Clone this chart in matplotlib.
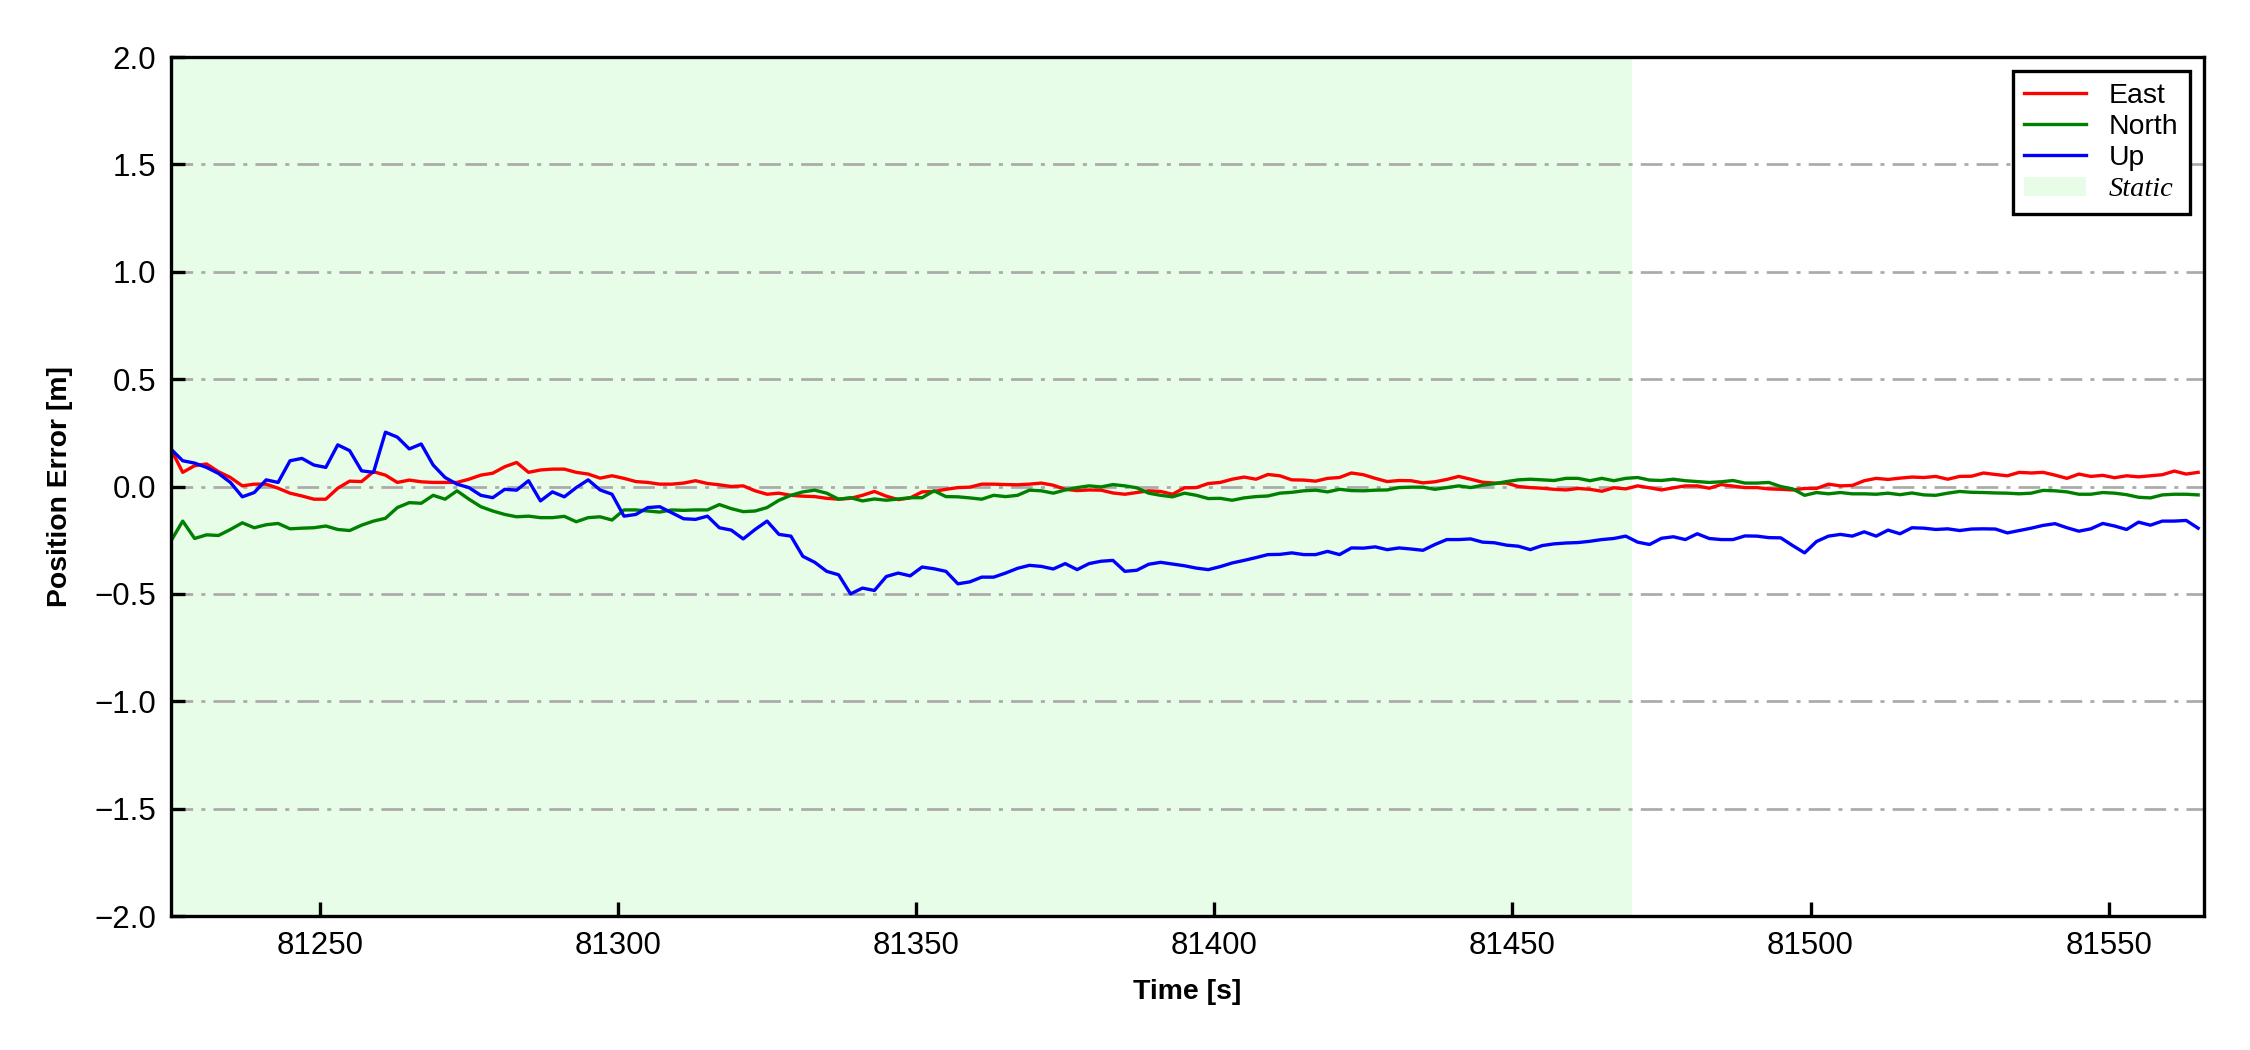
import matplotlib
matplotlib.use('Agg')
import matplotlib.pyplot as plt
import numpy as np
from matplotlib.patches import Patch

# sample times [s], 2 s step
time_s = np.arange(81225, 81566, 2)

east = [
    0.175, 0.066, 0.097, 0.105, 0.069, 0.042, 0.003, 0.011, 0.011, -0.008,
    -0.031, -0.044, -0.059, -0.059, -0.008, 0.025, 0.023, 0.069, 0.053, 0.019,
    0.030, 0.022, 0.019, 0.019, 0.019, 0.034, 0.053, 0.062, 0.092, 0.112,
    0.066, 0.077, 0.081, 0.081, 0.066, 0.058, 0.039, 0.050, 0.038, 0.023,
    0.019, 0.011, 0.011, 0.016, 0.027, 0.014, 0.008, 0.000, 0.003, -0.020,
    -0.036, -0.031, -0.041, -0.045, -0.047, -0.055, -0.059, -0.055, -0.041, -0.023,
    -0.045, -0.061, -0.053, -0.025, -0.023, -0.013, -0.005, -0.003, 0.011, 0.011,
    0.009, 0.008, 0.011, 0.016, 0.006, -0.013, -0.019, -0.016, -0.017, -0.030,
    -0.036, -0.028, -0.020, -0.023, -0.036, -0.006, -0.005, 0.014, 0.019, 0.034,
    0.044, 0.034, 0.056, 0.050, 0.031, 0.030, 0.025, 0.038, 0.042, 0.063,
    0.055, 0.038, 0.023, 0.028, 0.027, 0.017, 0.022, 0.033, 0.047, 0.034,
    0.020, 0.016, 0.016, 0.000, -0.005, -0.008, -0.013, -0.016, -0.009, -0.013,
    -0.022, -0.006, -0.011, 0.003, -0.006, -0.016, -0.006, 0.003, 0.003, -0.008,
    0.009, 0.002, -0.005, -0.005, -0.011, -0.013, -0.016, -0.009, -0.009, 0.011,
    0.003, 0.005, 0.027, 0.038, 0.033, 0.039, 0.044, 0.042, 0.047, 0.034,
    0.047, 0.048, 0.063, 0.056, 0.050, 0.066, 0.063, 0.066, 0.053, 0.038,
    0.058, 0.047, 0.052, 0.041, 0.050, 0.045, 0.050, 0.055, 0.072, 0.058,
    0.066,
]

north = [
    -0.255, -0.161, -0.242, -0.225, -0.228, -0.200, -0.169, -0.192, -0.178, -0.172,
    -0.197, -0.194, -0.192, -0.184, -0.200, -0.205, -0.180, -0.161, -0.148, -0.098,
    -0.075, -0.078, -0.041, -0.059, -0.020, -0.059, -0.094, -0.114, -0.130, -0.141,
    -0.138, -0.145, -0.145, -0.139, -0.164, -0.145, -0.141, -0.156, -0.109, -0.109,
    -0.114, -0.119, -0.109, -0.111, -0.109, -0.109, -0.084, -0.103, -0.117, -0.114,
    -0.098, -0.064, -0.041, -0.025, -0.017, -0.031, -0.059, -0.052, -0.067, -0.058,
    -0.064, -0.058, -0.052, -0.052, -0.020, -0.047, -0.048, -0.053, -0.059, -0.041,
    -0.047, -0.041, -0.017, -0.020, -0.031, -0.016, -0.005, 0.003, -0.002, 0.009,
    0.003, -0.006, -0.031, -0.041, -0.048, -0.031, -0.041, -0.056, -0.055, -0.064,
    -0.053, -0.047, -0.044, -0.031, -0.027, -0.020, -0.017, -0.025, -0.013, -0.019,
    -0.020, -0.017, -0.016, -0.005, -0.003, -0.003, -0.013, -0.005, 0.003, -0.005,
    0.006, 0.013, 0.023, 0.031, 0.034, 0.031, 0.028, 0.038, 0.038, 0.027,
    0.038, 0.027, 0.038, 0.042, 0.030, 0.028, 0.034, 0.027, 0.023, 0.019,
    0.022, 0.028, 0.016, 0.016, 0.019, 0.000, -0.011, -0.041, -0.028, -0.034,
    -0.028, -0.034, -0.034, -0.036, -0.031, -0.038, -0.030, -0.039, -0.041, -0.031,
    -0.023, -0.027, -0.028, -0.030, -0.031, -0.034, -0.031, -0.018, -0.020, -0.025,
    -0.036, -0.036, -0.028, -0.031, -0.038, -0.050, -0.053, -0.039, -0.036, -0.036,
    -0.039,
]

up = [
    0.175, 0.120, 0.109, 0.089, 0.061, 0.019, -0.048, -0.028, 0.031, 0.019,
    0.120, 0.131, 0.100, 0.089, 0.194, 0.167, 0.073, 0.066, 0.253, 0.230,
    0.175, 0.198, 0.100, 0.042, 0.011, -0.005, -0.041, -0.052, -0.013, -0.017,
    0.027, -0.067, -0.025, -0.048, -0.005, 0.031, -0.016, -0.036, -0.138, -0.130,
    -0.098, -0.094, -0.122, -0.150, -0.153, -0.138, -0.192, -0.203, -0.244, -0.200,
    -0.161, -0.223, -0.231, -0.325, -0.353, -0.395, -0.411, -0.500, -0.473, -0.484,
    -0.419, -0.403, -0.416, -0.375, -0.383, -0.395, -0.453, -0.444, -0.422, -0.422,
    -0.403, -0.381, -0.367, -0.372, -0.384, -0.359, -0.387, -0.359, -0.348, -0.344,
    -0.395, -0.390, -0.362, -0.353, -0.361, -0.369, -0.380, -0.387, -0.373, -0.356,
    -0.344, -0.331, -0.317, -0.316, -0.309, -0.317, -0.317, -0.302, -0.317, -0.286,
    -0.287, -0.281, -0.294, -0.286, -0.291, -0.297, -0.270, -0.247, -0.247, -0.244,
    -0.259, -0.262, -0.273, -0.278, -0.294, -0.275, -0.267, -0.263, -0.261, -0.255,
    -0.247, -0.242, -0.231, -0.259, -0.270, -0.241, -0.234, -0.247, -0.220, -0.242,
    -0.247, -0.247, -0.230, -0.231, -0.238, -0.239, -0.275, -0.309, -0.256, -0.231,
    -0.223, -0.231, -0.211, -0.231, -0.203, -0.220, -0.192, -0.194, -0.200, -0.197,
    -0.205, -0.198, -0.197, -0.198, -0.216, -0.205, -0.194, -0.181, -0.173, -0.192,
    -0.208, -0.197, -0.172, -0.184, -0.200, -0.166, -0.180, -0.161, -0.161, -0.158,
    -0.194,
]

static_end = 81470

plt.rcParams['font.family'] = ['Liberation Sans', 'DejaVu Sans']

fig, ax = plt.subplots(figsize=(7.5, 3.5), dpi=300)
fig.subplots_adjust(left=0.0759, right=0.9796, bottom=0.1276, top=0.9457)

ax.axvspan(time_s[0], static_end, color='#e8fde8', lw=0, zorder=0)
ax.plot(time_s, east, color='red', lw=0.8, label='East')
ax.plot(time_s, north, color='green', lw=0.8, label='North')
ax.plot(time_s, up, color='blue', lw=0.8, label='Up')

ax.set_xlim(81225, 81566)
ax.set_ylim(-2.0, 2.0)
ax.set_yticks(np.arange(-2.0, 2.01, 0.5))
ax.yaxis.grid(True, color='#aaaaaa', lw=0.65, linestyle=(0, (8, 3, 1.5, 3)))
ax.set_axisbelow(True)

ax.tick_params(direction='in', labelsize=7.5, length=3.4, width=0.8)
for sp in ax.spines.values():
    sp.set_linewidth(0.8)

label_font = dict(weight='bold', size=6.8)
ax.set_xlabel('Time [s]', fontdict=label_font, labelpad=4.5)
ax.set_ylabel('Position Error [m]', fontdict=label_font, labelpad=5)

handles, labels = ax.get_legend_handles_labels()
handles.append(Patch(facecolor='#e8fde8', edgecolor='none'))
labels.append('Static')
leg = ax.legend(handles, labels, loc='upper right', fontsize=6.8, fancybox=False,
                edgecolor='black', framealpha=1, labelspacing=0.19, handlelength=2.2)
leg.get_frame().set_linewidth(0.8)
leg.get_texts()[3].set_family(['Liberation Serif', 'DejaVu Serif'])
leg.get_texts()[3].set_style('italic')

fig.savefig('out.png', dpi=300)
